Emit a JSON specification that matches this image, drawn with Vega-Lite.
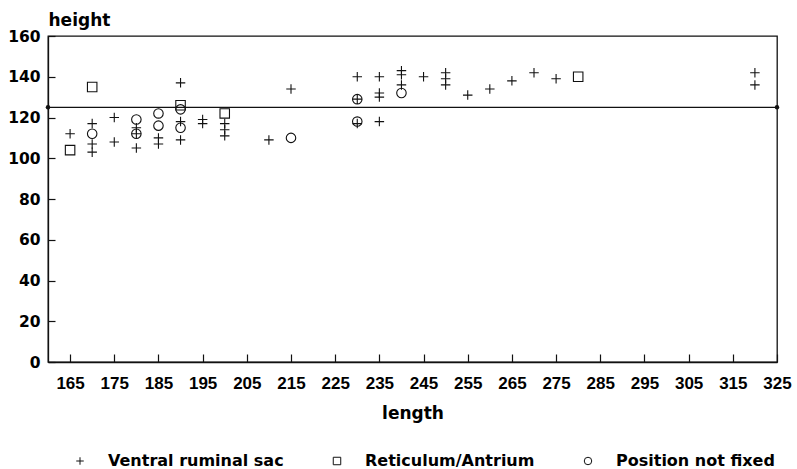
{
  "$schema": "https://vega.github.io/schema/vega-lite/v6.json",
  "width": 729,
  "height": 326,
  "autosize": {"type": "none"},
  "padding": {"left": 48, "top": 36, "right": 20, "bottom": 107},
  "background": "white",
  "config": {
    "view": {"stroke": "#111", "strokeWidth": 1.3},
    "axis": {"domainColor": "#111", "domainWidth": 1.3, "tickColor": "#111", "tickWidth": 1.2, "grid": false, "labelColor": "#000", "titleColor": "#000"}
  },
  "layer": [
    {
      "data": {"values": [
        {"length": 165, "height": 112, "site": "Ventral ruminal sac"},
        {"length": 170, "height": 117, "site": "Ventral ruminal sac"},
        {"length": 170, "height": 107, "site": "Ventral ruminal sac"},
        {"length": 170, "height": 103, "site": "Ventral ruminal sac"},
        {"length": 175, "height": 120, "site": "Ventral ruminal sac"},
        {"length": 175, "height": 108, "site": "Ventral ruminal sac"},
        {"length": 180, "height": 115, "site": "Ventral ruminal sac"},
        {"length": 180, "height": 112, "site": "Ventral ruminal sac"},
        {"length": 180, "height": 105, "site": "Ventral ruminal sac"},
        {"length": 185, "height": 110, "site": "Ventral ruminal sac"},
        {"length": 185, "height": 107, "site": "Ventral ruminal sac"},
        {"length": 190, "height": 137, "site": "Ventral ruminal sac"},
        {"length": 190, "height": 118, "site": "Ventral ruminal sac"},
        {"length": 190, "height": 109, "site": "Ventral ruminal sac"},
        {"length": 195, "height": 119, "site": "Ventral ruminal sac"},
        {"length": 195, "height": 117, "site": "Ventral ruminal sac"},
        {"length": 200, "height": 117, "site": "Ventral ruminal sac"},
        {"length": 200, "height": 114, "site": "Ventral ruminal sac"},
        {"length": 200, "height": 111, "site": "Ventral ruminal sac"},
        {"length": 210, "height": 109, "site": "Ventral ruminal sac"},
        {"length": 215, "height": 134, "site": "Ventral ruminal sac"},
        {"length": 230, "height": 140, "site": "Ventral ruminal sac"},
        {"length": 230, "height": 129, "site": "Ventral ruminal sac"},
        {"length": 230, "height": 117, "site": "Ventral ruminal sac"},
        {"length": 235, "height": 140, "site": "Ventral ruminal sac"},
        {"length": 235, "height": 132, "site": "Ventral ruminal sac"},
        {"length": 235, "height": 130, "site": "Ventral ruminal sac"},
        {"length": 235, "height": 118, "site": "Ventral ruminal sac"},
        {"length": 240, "height": 143, "site": "Ventral ruminal sac"},
        {"length": 240, "height": 141, "site": "Ventral ruminal sac"},
        {"length": 240, "height": 136, "site": "Ventral ruminal sac"},
        {"length": 245, "height": 140, "site": "Ventral ruminal sac"},
        {"length": 250, "height": 142, "site": "Ventral ruminal sac"},
        {"length": 250, "height": 139, "site": "Ventral ruminal sac"},
        {"length": 250, "height": 136, "site": "Ventral ruminal sac"},
        {"length": 255, "height": 131, "site": "Ventral ruminal sac"},
        {"length": 260, "height": 134, "site": "Ventral ruminal sac"},
        {"length": 265, "height": 138, "site": "Ventral ruminal sac"},
        {"length": 270, "height": 142, "site": "Ventral ruminal sac"},
        {"length": 275, "height": 139, "site": "Ventral ruminal sac"},
        {"length": 320, "height": 142, "site": "Ventral ruminal sac"},
        {"length": 320, "height": 136, "site": "Ventral ruminal sac"},
        {"length": 165, "height": 104, "site": "Reticulum/Antrium"},
        {"length": 170, "height": 135, "site": "Reticulum/Antrium"},
        {"length": 190, "height": 126, "site": "Reticulum/Antrium"},
        {"length": 200, "height": 122, "site": "Reticulum/Antrium"},
        {"length": 280, "height": 140, "site": "Reticulum/Antrium"},
        {"length": 170, "height": 112, "site": "Position not fixed"},
        {"length": 180, "height": 119, "site": "Position not fixed"},
        {"length": 180, "height": 112, "site": "Position not fixed"},
        {"length": 185, "height": 122, "site": "Position not fixed"},
        {"length": 185, "height": 116, "site": "Position not fixed"},
        {"length": 190, "height": 124, "site": "Position not fixed"},
        {"length": 190, "height": 115, "site": "Position not fixed"},
        {"length": 215, "height": 110, "site": "Position not fixed"},
        {"length": 230, "height": 129, "site": "Position not fixed"},
        {"length": 230, "height": 118, "site": "Position not fixed"},
        {"length": 240, "height": 132, "site": "Position not fixed"}
      ]},
      "mark": {"type": "point", "filled": false, "color": "#111", "strokeWidth": 1.1, "size": 90, "opacity": 1},
      "encoding": {
        "x": {
          "field": "length", "type": "quantitative",
          "scale": {"domain": [160, 325], "nice": false, "zero": false},
          "axis": {
            "title": "length",
            "values": [165, 170, 175, 180, 185, 190, 195, 200, 205, 210, 215, 220, 225, 230, 235, 240, 245, 250, 255, 260, 265, 270, 275, 280, 285, 290, 295, 300, 305, 310, 315, 320, 325],
            "labelExpr": "datum.value % 10 == 5 ? datum.label : ''",
            "tickSize": -8,
            "labelPadding": 34,
            "labelBaseline": "alphabetic",
            "labelFlush": false,
            "labelOverlap": false,
            "labelFont": "Liberation Sans",
            "labelFontWeight": "bold",
            "labelFontSize": 17,
            "titleFont": "DejaVu Sans",
            "titleFontWeight": "bold",
            "titleFontSize": 17,
            "titleBaseline": "alphabetic",
            "titleY": 56
          }
        },
        "y": {
          "field": "height", "type": "quantitative",
          "scale": {"domain": [0, 160], "nice": false},
          "axis": {
            "title": "height",
            "values": [0, 20, 40, 60, 80, 100, 120, 140, 160],
            "tickSize": -7,
            "labelPadding": 15,
            "labelFont": "DejaVu Sans",
            "labelFontWeight": "bold",
            "labelFontSize": 15.5,
            "labelFlush": false,
            "labelOverlap": false,
            "titleAngle": 0,
            "titleAlign": "left",
            "titleBaseline": "alphabetic",
            "titleX": 0,
            "titleY": -11,
            "titleFont": "DejaVu Sans",
            "titleFontWeight": "bold",
            "titleFontSize": 17
          }
        },
        "shape": {
          "field": "site", "type": "nominal",
          "scale": {"domain": ["Ventral ruminal sac", "Reticulum/Antrium", "Position not fixed"], "range": ["M-1,0H1M0,-1V1", "square", "circle"]},
          "legend": {
            "orient": "none", "legendX": 24, "legendY": 417, "direction": "horizontal", "columns": 3,
            "title": null, "padding": 0,
            "labelFont": "DejaVu Sans", "labelFontWeight": "bold", "labelFontSize": 16, "labelColor": "#000",
            "labelOffset": 20, "labelLimit": 400, "columnPadding": 45,
            "symbolSize": 56, "symbolStrokeWidth": 1, "symbolStrokeColor": "#111", "symbolFillColor": "transparent"
          }
        }
      }
    },
    {
      "data": {"values": [{"height": 125}]},
      "mark": {"type": "rule", "color": "#111", "strokeWidth": 1.3},
      "encoding": {"y": {"field": "height", "type": "quantitative"}}
    },
    {
      "data": {"values": [{"length": 160, "height": 125}, {"length": 325, "height": 125}]},
      "mark": {"type": "point", "filled": true, "color": "#111", "size": 20, "opacity": 1},
      "encoding": {
        "x": {"field": "length", "type": "quantitative"},
        "y": {"field": "height", "type": "quantitative"}
      }
    }
  ]
}
